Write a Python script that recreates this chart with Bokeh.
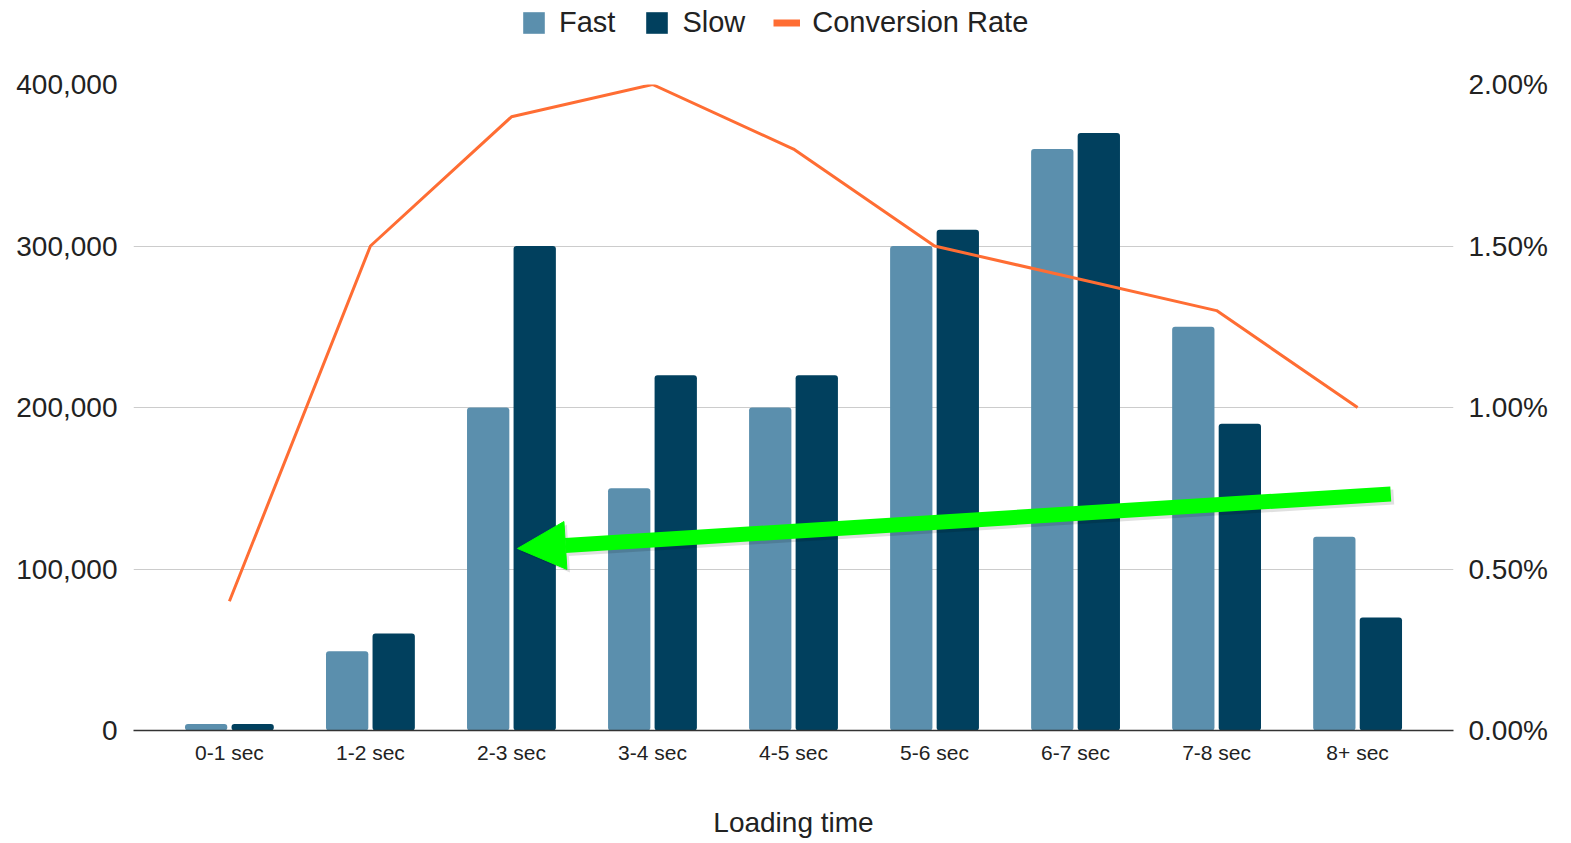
from bokeh.plotting import figure
from bokeh.models import (Range1d, LinearAxis, FixedTicker, NumeralTickFormatter,
                          Legend, LegendItem, Arrow, NormalHead, ColumnDataSource)
from bokeh.transform import dodge
from bokeh.layouts import column
from bokeh.embed import file_html
from bokeh.resources import INLINE

# ---- data ----
categories = ["0-1 sec", "1-2 sec", "2-3 sec", "3-4 sec", "4-5 sec",
              "5-6 sec", "6-7 sec", "7-8 sec", "8+ sec"]
fast = [4000, 49000, 200000, 150000, 200000, 300000, 360000, 250000, 120000]
slow = [4000, 60000, 300000, 220000, 220000, 310000, 370000, 190000, 70000]
conversion = [0.004, 0.015, 0.019, 0.020, 0.018, 0.015, 0.014, 0.013, 0.010]
left_ticks = [0, 100000, 200000, 300000, 400000]
right_ticks = [0, 0.005, 0.010, 0.015, 0.020]
series_names = ["Fast", "Slow", "Conversion Rate"]
# highlight arrow (data coordinates: category index, left-axis value)
arrow_start = (8.235, 146500)
arrow_end = (2.043, 112700)

FAST_C = "#5b8fad"
SLOW_C = "#01405e"
ORANGE = "#ff6d33"
GREEN = "#00ff00"
TEXT_C = "#222222"
FONT = "Liberation Sans"

idx = list(range(len(categories)))
src = ColumnDataSource(dict(idx=idx, fast=fast, slow=slow, conv=conversion))

W = 1568
LEG_H = 44
H = 843 - LEG_H
FRAME_L, FRAME_R, FRAME_T, FRAME_B = 133, 1453, 84 - LEG_H, 730 - LEG_H
ML, MT = FRAME_L, FRAME_T
MR = W - FRAME_R
MB = H - FRAME_B
x_lo, x_hi = -0.68, len(categories) - 1 + 0.68
y_hi = 400000

# ---------------- legend strip ----------------
lf = figure(width=W, height=LEG_H, output_backend="svg", toolbar_location=None,
            x_range=Range1d(0, 1), y_range=Range1d(0, 1),
            min_border=0, x_axis_location=None, y_axis_location=None)
lf.outline_line_color = None
lf.grid.visible = False
# zero-size stand-ins that only supply the legend swatches
swatch = ColumnDataSource(dict(x=[0, 0], y=[0, 0]))
lr_fast = lf.vbar(x="x", top="y", width=0, source=swatch,
                  fill_color=FAST_C, line_color=None)
lr_slow = lf.vbar(x="x", top="y", width=0, source=swatch,
                  fill_color=SLOW_C, line_color=None)
lr_line = lf.line(x="x", y="y", source=swatch, line_color=ORANGE, line_width=7)
legend = Legend(items=[LegendItem(label=series_names[0], renderers=[lr_fast], index=0),
                       LegendItem(label=series_names[1], renderers=[lr_slow], index=0),
                       LegendItem(label=series_names[2], renderers=[lr_line])],
                orientation="horizontal", location=(387, 5),
                border_line_color=None, background_fill_alpha=0,
                label_text_font=FONT, label_text_font_size="29px",
                label_text_color=TEXT_C, glyph_width=27, glyph_height=27,
                label_standoff=12, spacing=28, padding=0, margin=0)
lf.add_layout(legend)

# ---------------- main chart ----------------
p = figure(width=W, height=H, output_backend="svg", toolbar_location=None,
           x_range=Range1d(x_lo, x_hi), y_range=Range1d(0, y_hi),
           min_border_left=ML, min_border_right=MR, min_border_top=MT,
           min_border_bottom=MB)
p.outline_line_color = None
p.background_fill_color = "white"
p.border_fill_color = "white"
p.extra_y_ranges = {"pct": Range1d(0, 0.02)}

p.vbar(x=dodge("idx", -0.165), top="fast", width=0.30, source=src,
       fill_color=FAST_C, line_color=None, border_radius=3)
p.vbar(x=dodge("idx", 0.165), top="slow", width=0.30, source=src,
       fill_color=SLOW_C, line_color=None, border_radius=3)
p.line(x="idx", y="conv", source=src, line_color=ORANGE, line_width=3,
       y_range_name="pct")

# grid
p.xgrid.visible = False
p.ygrid.ticker = FixedTicker(ticks=left_ticks)
p.ygrid.grid_line_color = "#cccccc"
p.ygrid.grid_line_width = 1

# left axis
ya = p.yaxis[0]
ya.ticker = FixedTicker(ticks=left_ticks)
ya.formatter = NumeralTickFormatter(format="0,0")
ya.axis_line_color = None
ya.major_tick_line_color = None
ya.minor_tick_line_color = None
ya.major_tick_out = 0
ya.major_tick_in = 0
ya.minor_tick_out = 0
ya.major_label_standoff = 16
ya.major_label_text_font = FONT
ya.major_label_text_font_size = "28px"
ya.major_label_text_color = TEXT_C

# right axis
ra = LinearAxis(y_range_name="pct", ticker=FixedTicker(ticks=right_ticks),
                formatter=NumeralTickFormatter(format="0.00%"))
ra.axis_line_color = None
ra.major_tick_line_color = None
ra.minor_tick_line_color = None
ra.major_tick_out = 0
ra.major_tick_in = 0
ra.minor_tick_out = 0
ra.major_label_standoff = 15
ra.major_label_text_font = FONT
ra.major_label_text_font_size = "28px"
ra.major_label_text_color = TEXT_C
p.add_layout(ra, "right")

# bottom axis
xa = p.xaxis[0]
xa.ticker = FixedTicker(ticks=idx)
xa.major_label_overrides = {i: c for i, c in zip(idx, categories)}
xa.axis_line_color = "#333333"
xa.axis_line_width = 1.5
xa.major_tick_line_color = None
xa.minor_tick_line_color = None
xa.major_tick_out = 0
xa.major_tick_in = 0
xa.minor_tick_out = 0
xa.major_label_standoff = 10
xa.major_label_text_font = FONT
xa.major_label_text_font_size = "21px"
xa.major_label_text_color = TEXT_C
xa.axis_label = "Loading time"
xa.axis_label_text_font = FONT
xa.axis_label_text_font_size = "28px"
xa.axis_label_text_font_style = "normal"
xa.axis_label_text_color = TEXT_C
xa.axis_label_standoff = 40

# arrow with soft shadow
fw = FRAME_R - FRAME_L
fh = FRAME_B - FRAME_T
dx = 3 * (x_hi - x_lo) / fw
dy = -3 * y_hi / fh
p.add_layout(Arrow(end=NormalHead(size=48, fill_color="black", fill_alpha=0.12,
                                  line_color=None),
                   x_start=arrow_start[0] + dx, y_start=arrow_start[1] + dy,
                   x_end=arrow_end[0] + dx, y_end=arrow_end[1] + dy,
                   line_color="black", line_alpha=0.12, line_width=15))
p.add_layout(Arrow(end=NormalHead(size=48, fill_color=GREEN, line_color=GREEN,
                                  line_width=1),
                   x_start=arrow_start[0], y_start=arrow_start[1],
                   x_end=arrow_end[0], y_end=arrow_end[1],
                   line_color=GREEN, line_width=15))

layout = column(lf, p, spacing=0)
open("out.html", "w").write(file_html(layout, INLINE))
